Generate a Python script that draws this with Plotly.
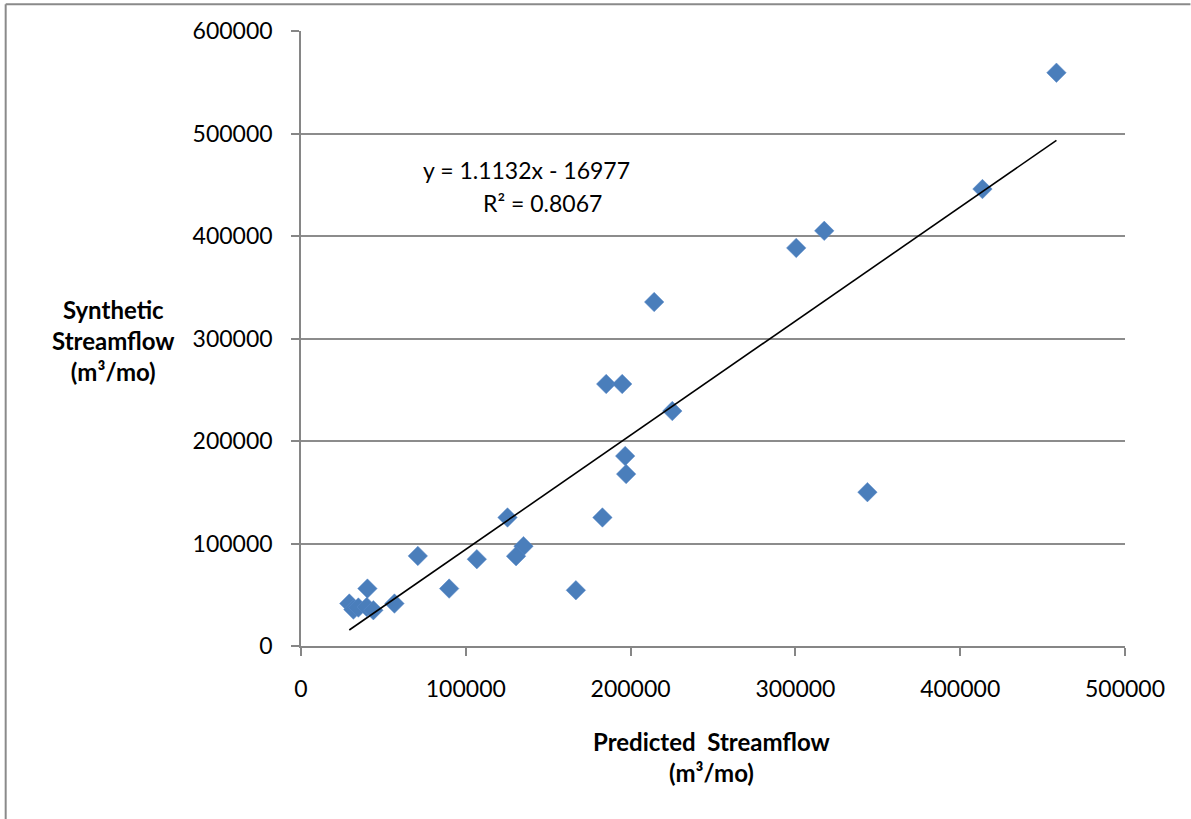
import plotly.graph_objects as go
import numpy as np

# Data
predicted = [458400, 413500, 317500, 300500, 214300, 185200, 194900, 225300,
             196700, 197300, 343700, 125300, 182900, 135000, 130500, 70900,
             106700, 89900, 166800, 40300, 56700, 29300, 31800, 34800, 39900, 43900]
synthetic = [559300, 445800, 405000, 388400, 335600, 255600, 255600, 229200,
             185300, 167700, 150100, 125400, 125400, 97400, 87600, 87900,
             84700, 56000, 54400, 56000, 41400, 41400, 35500, 37500, 38100, 34900]

slope = 1.1132
intercept = -16977
r2 = 0.8067

x_ticks = [0, 100000, 200000, 300000, 400000, 500000]
y_ticks = [0, 100000, 200000, 300000, 400000, 500000, 600000]

FONT = "Lato"
W, H = 1191, 819
L, R, T, B = 301, 1125.5, 31.3, 645.7

fig = go.Figure()
fig.add_trace(go.Scatter(
    x=predicted, y=synthetic, mode="markers",
    marker=dict(symbol="diamond", size=15, color="#4A7EBB",
                line=dict(width=0.5, color="#5B8ACB")),
    showlegend=False, hoverinfo="x+y"))

xl = np.array([min(predicted), max(predicted)])
fig.add_trace(go.Scatter(
    x=xl, y=slope * xl + intercept, mode="lines",
    line=dict(color="black", width=1.6), showlegend=False, hoverinfo="skip"))

def px2paper_x(px):
    return (px - L) / (R - L)

def px2paper_y(py):
    return (B - py) / (B - T)

axis_common = dict(showline=True, linecolor="#868686", linewidth=1.5,
                   ticks="outside", ticklen=8, tickcolor="#868686", tickwidth=1.5,
                   zeroline=False,
                   tickfont=dict(family=FONT, size=23, color="black"))

fig.update_xaxes(range=[0, 500000], tickvals=x_ticks,
                 ticktext=[str(v) for v in x_ticks], showgrid=False,
                 ticklabelstandoff=14, **axis_common)
fig.update_yaxes(range=[0, 600000], tickvals=y_ticks,
                 ticktext=[str(v) for v in y_ticks], showgrid=True,
                 gridcolor="#8c8c8c", gridwidth=1.5,
                 ticklabelstandoff=14, **axis_common)

annotations = [
    dict(x=px2paper_x(527), y=px2paper_y(170), text="y = 1.1132x - 16977", size=23),
    dict(x=px2paper_x(543), y=px2paper_y(203), text="R² = 0.8067", size=23),
    dict(x=px2paper_x(113), y=px2paper_y(340),
         text="<b>Synthetic<br>Streamflow<br>(m³/mo)</b>", size=24),
    dict(x=px2paper_x(712), y=px2paper_y(757),
         text="<b>Predicted  Streamflow<br>(m³/mo)</b>", size=24),
]
for a in annotations:
    size = a.pop("size")
    fig.add_annotation(xref="paper", yref="paper", showarrow=False,
                       xanchor="center", yanchor="middle",
                       font=dict(family=FONT, size=size, color="black"), **a)

# outer chart border (left and top visible)
fig.add_shape(type="line", xref="paper", yref="paper",
              x0=px2paper_x(5.5), x1=px2paper_x(5.5),
              y0=px2paper_y(819), y1=px2paper_y(4.5),
              line=dict(color="#8a8a8a", width=2))
fig.add_shape(type="line", xref="paper", yref="paper",
              x0=px2paper_x(5.5), x1=px2paper_x(1191),
              y0=px2paper_y(4.5), y1=px2paper_y(4.5),
              line=dict(color="#8a8a8a", width=2))

fig.update_layout(width=W, height=H, autosize=False,
                  margin=dict(l=L, r=W - R, t=T, b=H - B, pad=0),
                  paper_bgcolor="white", plot_bgcolor="white",
                  font=dict(family=FONT))

fig.write_html("out.html")
